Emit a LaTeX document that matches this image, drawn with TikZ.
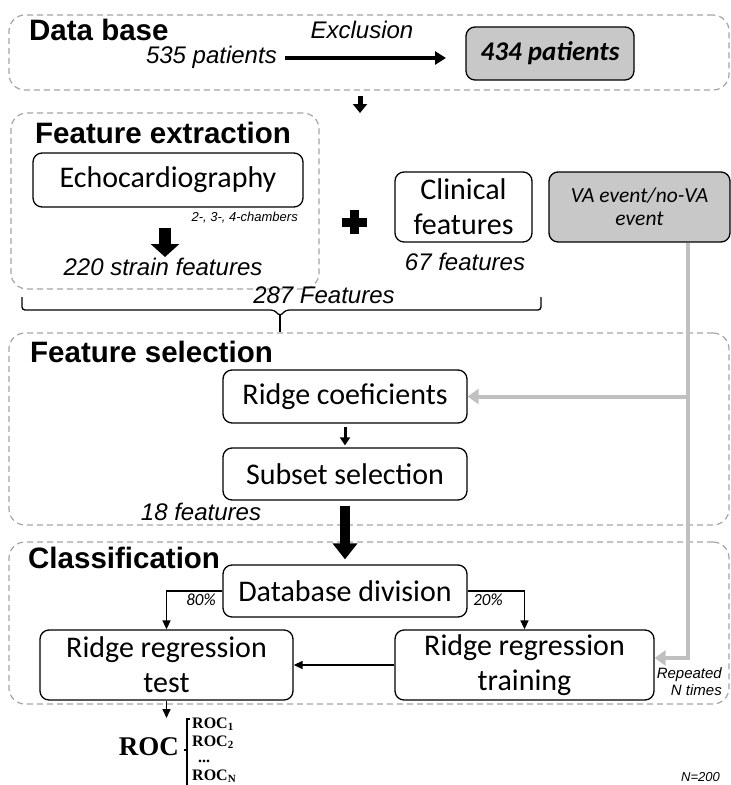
\documentclass[tikz,border=0pt]{standalone}
\usepackage{fontspec}
\setmainfont{Liberation Sans}
\newfontfamily\carl{Carlito}
\newfontfamily\rocf{Liberation Serif}
\usetikzlibrary{arrows.meta}
\definecolor{dashgray}{RGB}{165,165,165}
\definecolor{boxgray}{RGB}{200,200,200}
\definecolor{lgray}{RGB}{192,192,192}
\tikzset{
  grp/.style={draw=dashgray, dash pattern=on 6pt off 4pt, line width=1.2pt, rounded corners=16pt, inner sep=0pt},
  bx/.style={draw, line width=1.3pt, rounded corners=9pt, align=center, inner sep=0pt, font=\carl\fontsize{30}{35}\selectfont},
  gbx/.style={bx, fill=boxgray},
  ttl/.style={anchor=base west, inner sep=0pt, font=\bfseries\fontsize{29.5}{30}\selectfont},
  lbl/.style={anchor=base, inner sep=0pt, font=\itshape\fontsize{24}{26}\selectfont},
  sml/.style={anchor=base east, inner sep=0pt, font=\itshape\fontsize{15}{16}\selectfont},
  pct/.style={anchor=base, inner sep=0pt, font=\carl\itshape\fontsize{17}{18}\selectfont},
  rocs/.style={anchor=base west, inner sep=0pt, font=\rocf\bfseries\fontsize{16}{16}\selectfont},
  excl/.style={line width=4.5pt, -{Triangle[length=11pt,width=13pt]}},
  dbdown/.style={line width=5pt, -{Triangle[length=9pt,width=14pt]}},
  echoarr/.style={line width=12pt, -{Triangle[length=13pt,width=28pt]}},
  bigarr/.style={line width=10pt, -{Triangle[length=16pt,width=24pt]}},
  midarr/.style={line width=3pt, -{Triangle[length=8pt,width=10pt]}},
  conn/.style={line width=1.5pt, -{Triangle[length=9pt,width=8pt]}},
  gconn/.style={draw=lgray, line width=4pt, -{Triangle[length=11pt,width=15pt]}}
}
\newcommand{\rocsub}[1]{ROC\raisebox{-0.3ex}{\fontsize{11}{11}\selectfont #1}}
\begin{document}
\begin{tikzpicture}[x=1pt,y=-1pt]
\useasboundingbox (0,0) rectangle (731,785);

% ---------- group boxes ----------
\node[grp, minimum width=720pt, minimum height=75pt]  (gdb) at (369,52.5) {};
\node[grp, minimum width=308pt, minimum height=176pt] (gfe) at (165,201) {};
\node[grp, minimum width=720pt, minimum height=192pt] (gfs) at (369,429) {};
\node[grp, minimum width=720pt, minimum height=162pt] (gcl) at (369,623) {};

% ---------- titles ----------
\node[ttl] (tdb) at (29,40) {Data base};
\node[ttl] (tfe) at (35,143) {Feature extraction};
\node[ttl] (tfs) at (30,362) {Feature selection};
\node[ttl] (tcl) at (28,568) {Classification};

% ---------- data base ----------
\node[lbl, anchor=base east] (p535) at (277,63) {535 patients};
\node[lbl] (excltxt) at (362,38) {Exclusion};
\node[gbx, minimum width=168pt, minimum height=53pt, font=\carl\bfseries\itshape\fontsize{27}{30}\selectfont] (p434) at (550,53.5) {434 patients};
\coordinate (exA) at (285,58);
\coordinate (exB) at (446,58);
\draw[excl] (exA) -- (exB);
\coordinate (da1) at (360,96);
\coordinate (da2) at (360,113);
\draw[dbdown] (da1) -- (da2);

% ---------- feature extraction ----------
\node[bx, minimum width=270pt, minimum height=54pt] (echo) at (168,180) {Echocardiography};
\node[sml, font=\itshape\fontsize{13}{14}\selectfont] (cham) at (298,221) {2-, 3-, 4-chambers};
\coordinate (ea1) at (165,228);
\coordinate (ea2) at (165,257);
\draw[echoarr] (ea1) -- (ea2);
\node[lbl] (strain) at (163,275) {220 strain features};

\fill (342,217.5) rectangle (367,226.5);
\fill (350,210) rectangle (359,234);

\node[bx, minimum width=137pt, minimum height=70pt] (clin) at (463.5,207) {Clinical\\features};
\node[lbl] (f67) at (465,270) {67 features};
\node[gbx, minimum width=181pt, minimum height=70pt, font=\carl\itshape\fontsize{21.5}{23}\selectfont] (va) at (639.5,207) {VA event/no-VA\\event};

% brace
\draw[line width=1.3pt, rounded corners=3pt] (22,297) -- (22,310) -- (274,310) -- (280,316) -- (286,310) -- (541,310) -- (541,297);
\coordinate (brtip1) at (280,314);
\coordinate (brtip2) at (280,332);
\draw[line width=1.3pt] (brtip1) -- (brtip2);
\node[lbl] (f287) at (324,303) {287 Features};

% ---------- feature selection ----------
\node[bx, minimum width=244pt, minimum height=53pt] (rc) at (345,396.5) {Ridge coeficients};
\node[bx, minimum width=244pt, minimum height=52pt] (ss) at (345,474) {Subset selection};
\draw[midarr] ([yshift=-3pt]rc.south) -- ([yshift=2pt]ss.north);
\node[lbl] (f18) at (201,520) {18 features};

% ---------- classification ----------
\node[bx, minimum width=244pt, minimum height=52pt] (dbdiv) at (345,591) {Database division};
\draw[bigarr, shorten >=5pt] ([yshift=-5pt]ss.south) -- (dbdiv.north);
\node[bx, minimum width=253pt, minimum height=70pt] (test) at (166.5,665) {Ridge regression\\test};
\node[bx, minimum width=259pt, minimum height=70pt] (train) at (524.5,665) {Ridge regression\\training};
\draw[conn] (dbdiv.west) -| (test.north);
\draw[conn] (dbdiv.east) -| (train.north);
\node[pct] (p80) at (201,605) {80\%};
\node[pct] (p20) at (488,605) {20\%};
\draw[conn] (train.west) -- (test.east);

% gray feedback
\coordinate (g1) at (688,658);
\draw[gconn] (va.south -| g1) -- (g1) -- (train.east |- g1);
\draw[gconn] (rc.east -| g1) -- (rc.east);
\node[sml] (rep1) at (722,678) {Repeated};
\node[sml] (rep2) at (722,695) {N times};

% ---------- ROC ----------
\coordinate (rocA) at (166.5,718);
\draw[conn] (test.south) -- (rocA);
\node[anchor=base east, inner sep=0pt, font=\rocf\bfseries\fontsize{27}{27}\selectfont] (roc) at (179,755) {ROC};
\draw[line width=1.2pt] (190,719) -- (187,719) -- (187,790);
\draw[line width=1.2pt] (187,750) -- (183.5,750);
\node[rocs] (r1) at (192,728) {\rocsub{1}};
\node[rocs] (r2) at (192,746) {\rocsub{2}};
\node[rocs] (r3) at (198,762) {...};
\node[rocs] (rn) at (192,780) {\rocsub{N}};
\node[sml, font=\itshape\fontsize{13}{14}\selectfont] (n200) at (720,781) {N=200};
\end{tikzpicture}
\end{document}
